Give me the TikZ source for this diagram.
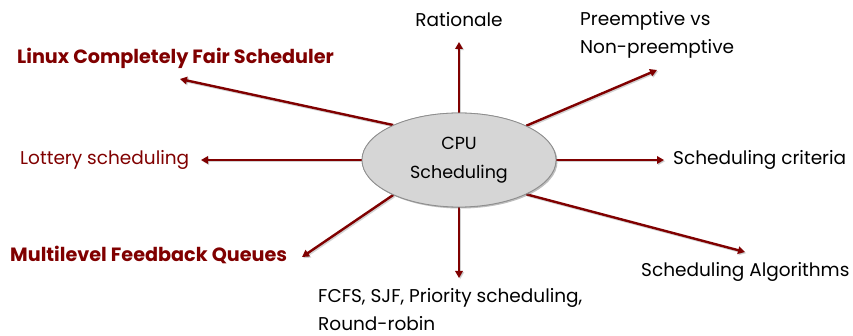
\documentclass[tikz,border=0pt]{standalone}
\usepackage{fontspec}
\setmainfont{Poppins}
\usetikzlibrary{shapes.geometric,arrows.meta,shadows}
\definecolor{maroon}{HTML}{800000}
\definecolor{ovalfill}{HTML}{D6D6D6}
\definecolor{ovalline}{HTML}{8E8E8E}
\tikzset{
  label/.style={inner sep=0pt, font=\fontsize{18.5}{28}\selectfont, align=left},
  redlabel/.style={label, text=maroon},
  boldlabel/.style={redlabel, font=\fontsize{19.2}{29}\selectfont\bfseries},
  spoke/.style={draw=maroon, line width=2.4pt,
    -{Triangle[length=7pt,width=7.5pt]},
    preaction={draw=black!35, line width=2.4pt, opacity=0.5,
      transform canvas={xshift=1.2pt,yshift=-1.2pt}}},
  hub/.style={ellipse, draw=ovalline, line width=0.8pt, fill=ovalfill,
    minimum width=194pt, minimum height=94pt, inner sep=0pt, align=center,
    font=\fontsize{17.5}{29}\selectfont,
    drop shadow={shadow xshift=1.5pt, shadow yshift=-1.5pt, opacity=0.3}}
}
\begin{document}
\begin{tikzpicture}[x=1pt,y=-1pt]
  \useasboundingbox (0,0) rectangle (853,336);

  % central topic
  \node[hub] (cpu) at (459,160) {CPU\\Scheduling};

  % surrounding topics
  \node[label] (rat) at (459,20) {Rationale};
  \node[label, anchor=west] (pre) at (580,35) {Preemptive vs\\Non-preemptive};
  \node[label, anchor=west] (crit) at (673,160) {Scheduling criteria};
  \node[label, anchor=west] (alg) at (641,272) {Scheduling Algorithms};
  \node[label, anchor=west] (fcfs) at (318,309.5) {FCFS, SJF, Priority scheduling,\\Round-robin};
  \node[boldlabel, anchor=west] (mlfq) at (10,255) {Multilevel Feedback Queues};
  \node[redlabel, anchor=west] (lot) at (20,160) {Lottery scheduling};
  \node[boldlabel, anchor=west] (cfs) at (17,58) {Linux Completely Fair Scheduler};

  % arrow tips
  \coordinate (tRat) at (459,42);
  \coordinate (tPre) at (657,70);
  \coordinate (tCrit) at (664,160);
  \coordinate (tAlg) at (745,252);
  \coordinate (tFcfs) at (459,278);
  \coordinate (tMlfq) at (302,257);
  \coordinate (tLot) at (201,160);
  \coordinate (tCfs) at (180,79);

  % spokes
  \draw[spoke] (cpu.90) -- (tRat);
  \draw[spoke] (cpu.27) -- (tPre);
  \draw[spoke] (cpu.0) -- (tCrit);
  \draw[spoke] (cpu.-27) -- (tAlg);
  \draw[spoke] (cpu.-90) -- (tFcfs);
  \draw[spoke] (cpu.-152) -- (tMlfq);
  \draw[spoke] (cpu.180) -- (tLot);
  \draw[spoke] (cpu.152) -- (tCfs);

  % redraw hub on top of the spoke roots
  \node[hub] at (cpu) {CPU\\Scheduling};
\end{tikzpicture}
\end{document}
